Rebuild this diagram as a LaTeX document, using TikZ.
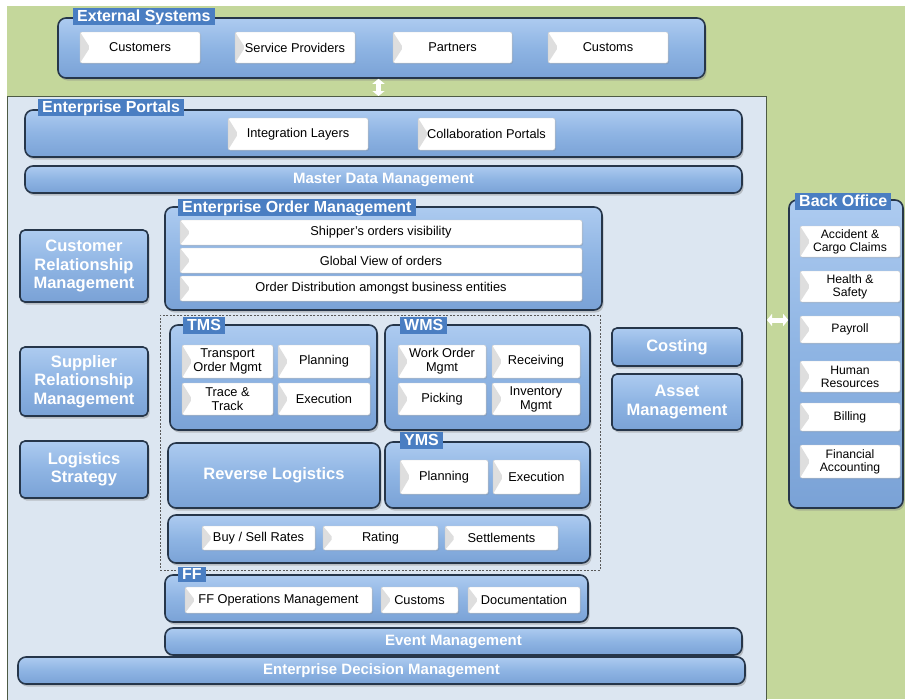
\documentclass[tikz,border=0pt]{standalone}
\usepackage{fontspec}
\setmainfont{Liberation Sans}
\usetikzlibrary{shadows,arrows.meta}
\definecolor{bggreen}{HTML}{C4D79B}
\definecolor{panelbg}{HTML}{DCE6F1}
\definecolor{panelline}{HTML}{4E5B45}
\definecolor{boxtop}{HTML}{ADCBF0}
\definecolor{boxmid}{HTML}{8EB4E3}
\definecolor{boxbot}{HTML}{7AA2D6}
\definecolor{boxline}{HTML}{26364A}
\definecolor{tabblue}{HTML}{4A7EC2}
\definecolor{chev}{HTML}{DEDEDE}
\tikzset{
 box/.style={draw=boxline, line width=1.6pt, rounded corners=8pt, top color=boxtop, bottom color=boxbot, middle color=boxmid, drop shadow={shadow xshift=1.5pt, shadow yshift=-2.5pt, opacity=0.4}, inner sep=0pt},
 sbox/.style={box, rounded corners=5pt},
 tab/.style={fill=tabblue, text=white, font=\bfseries\fontsize{16}{16}\selectfont, anchor=north west, inner xsep=4pt, inner ysep=0pt, minimum height=17pt, text height=12pt, text depth=3pt},
 item/.style={fill=white, draw=gray!40, line width=0.4pt, rounded corners=2pt, font=\fontsize{12.8}{14}\selectfont, align=center, inner sep=1pt, path picture={\fill[chev] (path picture bounding box.north west) -- ([xshift=10pt]path picture bounding box.west) -- (path picture bounding box.south west) -- cycle;}, drop shadow={shadow xshift=1pt, shadow yshift=-1pt, opacity=0.25}},
 boitem/.style={item, font=\fontsize{12.2}{13.2}\selectfont, minimum width=100pt},
 big/.style={text=white, font=\bfseries\fontsize{16.5}{18.5}\selectfont, align=center},
 bar/.style={box, font=\bfseries\fontsize{15}{15}\selectfont, text=white},
 fat/.style={white, line width=5pt, {Triangle[width=12pt,length=5pt]}-{Triangle[width=12pt,length=5pt]}},
}
\begin{document}
\begin{tikzpicture}[x=1pt,y=-1pt]
\useasboundingbox (0,0) rectangle (905,699);
\fill[white] (0,0) rectangle (905,699);
\fill[bggreen] (7,6) rectangle (905,699);
% panel
\node[fill=panelbg, draw=panelline, line width=1pt, anchor=north west, minimum width=759pt, minimum height=605pt, inner sep=0pt] (panel) at (7,96) {};
% External systems
\node[box, minimum width=647pt, minimum height=60pt] (ext) at (381.5,48) {};
\node[tab] (extt) at (73,8) {External Systems};
\node[item, minimum width=120pt, minimum height=31pt] (cust) at (140,47.5) {Customers};
\node[item, minimum width=120pt, minimum height=31pt] (sp) at (295,47.5) {Service Providers};
\node[item, minimum width=119pt, minimum height=31pt] (part) at (452.5,47.5) {Partners};
\node[item, minimum width=120pt, minimum height=31pt] (custs) at (608,47.5) {Customs};
\draw[fat] ([xshift=-3pt]ext.south) -- ([xshift=-3pt]ext.south |- panel.north);
% Portals
\node[box, minimum width=717pt, minimum height=47pt] (port) at (383.5,133.5) {};
\node[tab] (portt) at (38,99) {Enterprise Portals};
\node[item, minimum width=140pt, minimum height=32pt] (integ) at (298,134) {Integration Layers};
\node[item, minimum width=137pt, minimum height=32pt] (collab) at (486.5,134) {Collaboration Portals};
% MDM
\node[bar, minimum width=717pt, minimum height=27pt] (mdm) at (383.5,179.5) {Master Data Management};
% EOM
\node[box, minimum width=437pt, minimum height=103pt] (eom) at (383.5,258.5) {};
\node[tab] (eomt) at (178,199) {Enterprise Order Management};
\node[item, minimum width=402pt, minimum height=25pt] (r1) at (381,232.5) {Shipper's orders visibility};
\node[item, minimum width=402pt, minimum height=25pt] (r2) at (381,260.5) {Global View of orders};
\node[item, minimum width=402pt, minimum height=25pt] (r3) at (381,288.5) {Order Distribution amongst business entities};
% left column
\node[sbox, big, minimum width=128pt, minimum height=72pt] (crm) at (84,266) {Customer\\Relationship\\Management};
\node[sbox, big, minimum width=128pt, minimum height=69pt] (srm) at (84,381.5) {Supplier\\Relationship\\Management};
\node[sbox, big, minimum width=128pt, minimum height=57pt] (ls) at (84,469.5) {Logistics\\Strategy};
% dashed group
\node[draw=black!65, line width=0.8pt, dash pattern=on 2pt off 1.5pt, anchor=north west, minimum width=440pt, minimum height=255pt, inner sep=0pt] (grp) at (160,315) {};
% TMS
\node[box, minimum width=207pt, minimum height=105pt] (tms) at (273.5,377.5) {};
\node[tab] (tmst) at (183,317) {TMS};
\node[item, minimum width=91pt, minimum height=33pt] (tom) at (227.5,361.5) {Transport\\Order Mgmt};
\node[item, minimum width=92pt, minimum height=33pt] (tpl) at (324,361.5) {Planning};
\node[item, minimum width=91pt, minimum height=32pt] (tt) at (227.5,399) {Trace \&\\Track};
\node[item, minimum width=92pt, minimum height=32pt] (tex) at (324,399) {Execution};
% WMS
\node[box, minimum width=205pt, minimum height=105pt] (wms) at (487.5,377.5) {};
\node[tab] (wmst) at (400,317) {WMS};
\node[item, minimum width=88pt, minimum height=33pt] (wom) at (442,361.5) {Work Order\\Mgmt};
\node[item, minimum width=88pt, minimum height=33pt] (rec) at (536,361.5) {Receiving};
\node[item, minimum width=88pt, minimum height=32pt] (pick) at (442,399) {Picking};
\node[item, minimum width=88pt, minimum height=32pt] (inv) at (536,399) {Inventory\\Mgmt};
% Reverse logistics
\node[box, big, minimum width=212pt, minimum height=65pt] (rl) at (274,475.5) {Reverse Logistics};
% YMS
\node[box, minimum width=205pt, minimum height=66pt] (yms) at (487.5,475) {};
\node[tab] (ymst) at (400,432) {YMS};
\node[item, minimum width=88pt, minimum height=34pt] (ypl) at (444,477) {Planning};
\node[item, minimum width=87pt, minimum height=34pt] (yex) at (536.5,477) {Execution};
% Rates
\node[box, minimum width=422pt, minimum height=48pt] (rates) at (379,539) {};
\node[item, minimum width=113pt, minimum height=24pt] (bsr) at (258.5,538) {Buy / Sell Rates};
\node[item, minimum width=115pt, minimum height=24pt] (rat) at (380.5,538) {Rating};
\node[item, minimum width=113pt, minimum height=24pt] (set) at (501.5,538) {Settlements};
% FF
\node[box, minimum width=423pt, minimum height=47pt] (ff) at (376.5,598.5) {};
\node[tab, minimum height=15pt] (fft) at (178,567) {FF};
\node[item, minimum width=187pt, minimum height=26pt] (ffo) at (278.5,600) {FF Operations Management};
\node[item, minimum width=77pt, minimum height=26pt] (ffc) at (419.5,600) {Customs};
\node[item, minimum width=112pt, minimum height=26pt] (ffd) at (524,600) {Documentation};
% bars
\node[bar, minimum width=577pt, minimum height=27pt] (ev) at (453.5,641.5) {Event Management};
\node[bar, minimum width=727pt, minimum height=27pt] (edm) at (381.5,670.5) {Enterprise Decision Management};
% costing / asset
\node[sbox, big, minimum width=130pt, minimum height=38pt] (cost) at (677,347) {Costing};
\node[sbox, big, minimum width=130pt, minimum height=56pt] (asset) at (677,402) {Asset\\Management};
% Back office
\node[box, minimum width=114pt, minimum height=308pt] (bo) at (846,354) {};
\node[tab] (bot) at (795,193) {Back Office};
\node[boitem, minimum height=31pt] (b1) at (850,241.5) {Accident \&\\Cargo Claims};
\node[boitem, minimum height=31pt] (b2) at (850,286.5) {Health \&\\Safety};
\node[boitem, minimum height=27pt] (b3) at (850,329.5) {Payroll};
\node[boitem, minimum height=31pt] (b4) at (850,376.5) {Human\\Resources};
\node[boitem, minimum height=28pt] (b5) at (850,417) {Billing};
\node[boitem, minimum height=33pt] (b6) at (850,461.5) {Financial\\Accounting};
\coordinate (boin) at ([yshift=34pt]bo.west);
\draw[fat] (panel.east |- boin) -- (boin);
\end{tikzpicture}
\end{document}
